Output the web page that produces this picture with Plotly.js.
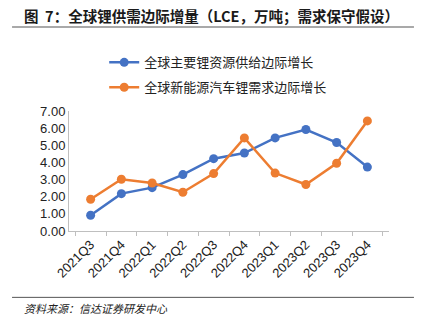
<!DOCTYPE html>
<html><head><meta charset="utf-8">
<script src="https://cdn.plot.ly/plotly-3.0.1.min.js"></script>
<style>body{margin:0;padding:0;background:#fff}#c{width:426px;height:323px}</style>
</head><body><div id="c"></div>
<script>
const categories = ["2021Q3","2021Q4","2022Q1","2022Q2","2022Q3","2022Q4","2023Q1","2023Q2","2023Q3","2023Q4"];
const supplyName = "全球主要锂资源供给边际增长";
const demandName = "全球新能源汽车锂需求边际增长";
const supply = [0.92, 2.18, 2.53, 3.29, 4.22, 4.55, 5.43, 5.92, 5.16, 3.73];
const demand = [1.85, 3.02, 2.80, 2.26, 3.35, 5.43, 3.38, 2.71, 3.95, 6.42];
const yTickVals = [0,1,2,3,4,5,6,7];
const yTickText = ["0.00","1.00","2.00","3.00","4.00","5.00","6.00","7.00"];

const cjk = '"Noto Sans CJK SC", sans-serif';
const data = [
  {x: categories, y: supply, name: supplyName, legendgroup: 'a', type: 'scatter', mode: 'lines+markers',
   line: {color: '#4472C4', width: 2.5}, marker: {color: '#4472C4', size: 9}},
  {x: categories, y: demand, name: demandName, legendgroup: 'b', type: 'scatter', mode: 'lines+markers',
   line: {color: '#ED7D31', width: 2.5}, marker: {color: '#ED7D31', size: 9}}
];
const layout = {
  width: 426, height: 323,
  margin: {l: 69, r: 37, t: 111, b: 92},
  paper_bgcolor: '#fff', plot_bgcolor: '#fff',
  showlegend: true,
  legend: {x: 0.11, y: 1.53, xanchor: 'left', yanchor: 'top', font: {family: cjk, size: 13, color: '#222'},
           bgcolor: 'rgba(0,0,0,0)', tracegroupgap: 5, itemwidth: 30},
  xaxis: {type: 'category', tickangle: -45, showgrid: false, showline: true, linecolor: '#bfbfbf', linewidth: 1,
          ticks: 'outside', tickson: 'boundaries', ticklen: 4, tickcolor: '#bfbfbf',
          tickfont: {family: 'Liberation Sans, Arial, sans-serif', size: 13, color: '#222'}, fixedrange: true},
  yaxis: {range: [0, 7], tickvals: yTickVals, ticktext: yTickText, showgrid: false, zeroline: false,
          showline: true, linecolor: '#bfbfbf', linewidth: 1, ticks: '',
          tickfont: {family: 'Liberation Sans, Arial, sans-serif', size: 13, color: '#222'}, fixedrange: true},
  shapes: [
    {type: 'line', xref: 'paper', yref: 'paper', x0: -0.178, x1: 1.078, y0: 1.7, y1: 1.7, line: {color: '#555', width: 1.2}},
    {type: 'line', xref: 'paper', yref: 'paper', x0: -0.178, x1: 1.078, y0: -0.553, y1: -0.553, line: {color: '#555', width: 1}}
  ],
  annotations: [
    {text: '<b>图  7：全球锂供需边际增量（LCE，万吨；需求保守假设）</b>', xref: 'paper', yref: 'paper',
     x: -0.147, y: 1.8, xanchor: 'left', yanchor: 'middle', showarrow: false,
     font: {family: cjk, size: 14.5, color: '#1a1a1a'}},
    {text: '<i>资料来源：信达证券研发中心</i>', xref: 'paper', yref: 'paper',
     x: -0.147, y: -0.64, xanchor: 'left', yanchor: 'middle', showarrow: false,
     font: {family: cjk, size: 11, color: '#222'}}
  ]
};
Plotly.newPlot('c', data, layout, {displayModeBar: false, staticPlot: true});
</script></body></html>
